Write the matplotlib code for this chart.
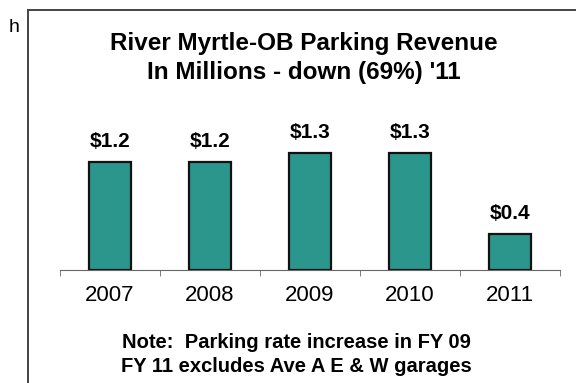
import numpy as np
import matplotlib
matplotlib.use("Agg")
import matplotlib.pyplot as plt
from matplotlib.lines import Line2D

plt.rcParams['font.family'] = ['Liberation Sans', 'DejaVu Sans']

# revenue in millions
years = ["2007", "2008", "2009", "2010", "2011"]
revenue = [1.2, 1.2, 1.3, 1.3, 0.4]
labels = ["$1.2", "$1.2", "$1.3", "$1.3", "$0.4"]

W, H = 576, 383
fig = plt.figure(figsize=(W / 100, H / 100), dpi=100)
fig.patch.set_facecolor("white")

# slide frame lines
fig.add_artist(Line2D([28/W, 28/W], [0, 1 - 10/H], color="#444444", lw=1.4))
fig.add_artist(Line2D([28/W, 1], [1 - 10/H, 1 - 10/H], color="#444444", lw=1.4))
fig.text(9/W, 1 - 28/H, "h", fontsize=14, va="center", ha="left")

fig.text(304/W, 1 - 50/H, "River Myrtle-OB Parking Revenue",
         fontsize=17.5, fontweight="bold", ha="center", va="baseline")
fig.text(304/W, 1 - 79/H, "In Millions - down (69%) '11",
         fontsize=17.5, fontweight="bold", ha="center", va="baseline")

ax = fig.add_axes([60/W, 113/H, 500/W, 135/H])
x = np.arange(len(years))
ax.bar(x, revenue, width=0.42, color="#2b968c", edgecolor="#111111", linewidth=1.6)
for xi, v, lab in zip(x, revenue, labels):
    ax.annotate(lab, (xi, v), xytext=(0, 11), textcoords="offset points",
                ha="center", va="baseline", fontsize=15, fontweight="bold")

ax.set_xlim(-0.5, 4.5)
ax.set_ylim(0, 1.5)
for s in ["top", "right", "left"]:
    ax.spines[s].set_visible(False)
ax.spines["bottom"].set_color("#666666")
ax.set_yticks([])
ax.set_xticks(x)
ax.set_xticklabels(years, fontsize=16)
ax.tick_params(axis="x", which="major", length=0, pad=11)
ax.set_xticks(np.arange(-0.5, 5.0, 1.0), minor=True)
ax.tick_params(axis="x", which="minor", length=4, color="#666666")

fig.text(296/W, 1 - 348/H, "Note:  Parking rate increase in FY 09",
         fontsize=14.5, fontweight="bold", ha="center", va="baseline")
fig.text(296/W, 1 - 372/H, "FY 11 excludes Ave A E & W garages",
         fontsize=14.5, fontweight="bold", ha="center", va="baseline")

fig.savefig("out.png", dpi=100)
